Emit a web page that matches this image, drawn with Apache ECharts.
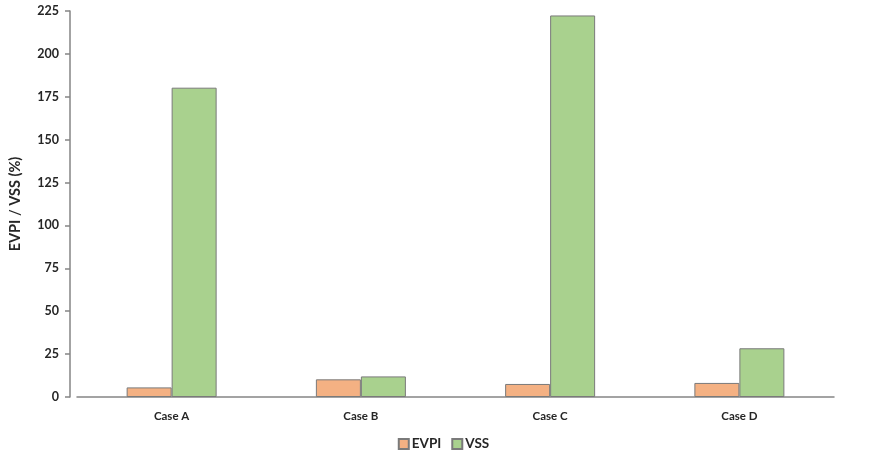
<!DOCTYPE html>
<html>
<head>
<meta charset="utf-8">
<script src="https://cdn.jsdelivr.net/npm/echarts@6/dist/echarts.min.js"></script>
<style>
  html, body { margin: 0; padding: 0; background: #fff; }
  #chart { width: 887px; height: 450px; }
</style>
</head>
<body>
<div id="chart"></div>
<script>
// Cases compared and the two measures (percent)
const categories = ['Case A', 'Case B', 'Case C', 'Case D'];
const evpiValues = [5.6, 10.3, 7.6, 8.2];
const vssValues = [180.3, 12.0, 222.4, 28.4];
const yTicks = { min: 0, max: 225, interval: 25 };

const fontFamily = 'Lato, "Open Sans", sans-serif';
const textColor = '#262626';
const axisColor = '#858585';

const chart = echarts.init(document.getElementById('chart'));
chart.setOption({
  animation: false,
  backgroundColor: '#ffffff',
  textStyle: { fontFamily: fontFamily },
  grid: { left: 74, right: 53, top: 11, bottom: 53, containLabel: false },
  legend: {
    data: ['EVPI', 'VSS'],
    left: 'center',
    top: 432,
    itemWidth: 10,
    itemHeight: 10,
    itemGap: 10,
    icon: 'rect',
    textStyle: { fontFamily: fontFamily, fontWeight: 'bold', fontSize: 13.5, color: textColor, padding: [0, 0, 0, -2] }
  },
  xAxis: {
    type: 'category',
    data: categories,
    axisLine: { lineStyle: { color: axisColor, width: 1.5 } },
    axisTick: { show: false },
    axisLabel: { margin: 13, fontFamily: fontFamily, fontWeight: 'bold', fontSize: 11.5, color: textColor }
  },
  yAxis: {
    type: 'value',
    min: yTicks.min,
    max: yTicks.max,
    interval: yTicks.interval,
    offset: 7,
    name: 'EVPI / VSS (%)',
    nameLocation: 'middle',
    nameGap: 47,
    nameRotate: 90,
    nameTextStyle: { fontFamily: fontFamily, fontWeight: 'bold', fontSize: 14.5, color: textColor },
    axisLine: { show: true, lineStyle: { color: axisColor, width: 1.5 } },
    axisTick: { show: true, length: 5, lineStyle: { color: axisColor, width: 1.5 } },
    splitLine: { show: false },
    axisLabel: { margin: 11, fontFamily: fontFamily, fontWeight: 'bold', fontSize: 12.5, color: textColor }
  },
  series: [
    {
      name: 'EVPI',
      type: 'bar',
      data: evpiValues,
      barWidth: 45,
      barGap: '0%',
      itemStyle: { color: '#f4b183', borderColor: '#7a7a7a', borderWidth: 1 }
    },
    {
      name: 'VSS',
      type: 'bar',
      data: vssValues,
      barWidth: 45,
      barGap: '0%',
      itemStyle: { color: '#a9d18e', borderColor: '#7a7a7a', borderWidth: 1 }
    }
  ]
});
</script>
</body>
</html>
